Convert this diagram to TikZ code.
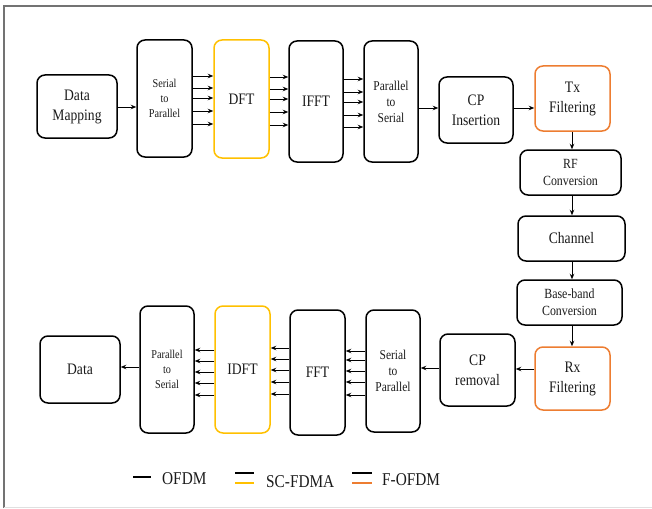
\documentclass[tikz,border=0pt]{standalone}
\usepackage{fontspec}
\setmainfont{Liberation Serif}[FakeStretch=0.85]
\usetikzlibrary{arrows.meta}
\definecolor{scy}{HTML}{FFC000}
\definecolor{fo}{HTML}{ED7D31}
\definecolor{txt}{HTML}{1A1A1A}
\tikzset{
  box/.style={draw=black, line width=1.5pt, rounded corners=8pt, align=center, text=txt, inner sep=1pt},
  big/.style={font=\fontsize{16}{20}\selectfont},
  mid/.style={font=\fontsize{14}{17}\selectfont},
  sml/.style={font=\fontsize{12}{15}\selectfont},
  smb/.style={font=\fontsize{13.5}{16}\selectfont},
  scbox/.style={box, draw=scy},
  fobox/.style={box, draw=fo},
  arr/.style={line width=0.9pt, -{Stealth[length=5.5pt,width=4.5pt]}},
  legtxt/.style={anchor=west, text=txt, font=\fontsize{18}{20}\selectfont, inner sep=0pt},
  legline/.style={line width=2.4pt},
}
\begin{document}
\begin{tikzpicture}[x=1pt,y=-1pt]
\useasboundingbox (0,0) rectangle (652,508);
% frame
\draw[black!55, line width=2pt] (4,508) -- (4,6) -- (652,6);
\draw[black!12, line width=1.5pt] (4,507.3) -- (652,507.3);

% top row
\node[box,big,minimum width=80pt,minimum height=63pt] (dm) at (77,106.5) {Data\\Mapping};
\node[box,sml,minimum width=55pt,minimum height=117pt] (sp1) at (164.5,98.5) {Serial\\to\\Parallel};
\node[scbox,big,minimum width=55pt,minimum height=118pt] (dft) at (241.5,99) {DFT};
\node[box,big,minimum width=54pt,minimum height=121pt] (ifft) at (316,101.5) {IFFT};
\node[box,smb,minimum width=54pt,minimum height=121pt] (ps1) at (391,101.5) {Parallel\\to\\Serial};
\node[box,big,minimum width=74pt,minimum height=66pt] (cpi) at (476,110) {CP\\Insertion};
\node[fobox,big,minimum width=75pt,minimum height=65pt] (tx) at (572.5,98.5) {Tx\\Filtering};

% right column
\node[box,mid,minimum width=101pt,minimum height=45pt] (rf) at (570.5,172.5) {RF\\Conversion};
\node[box,big,minimum width=107pt,minimum height=45pt] (ch) at (571.5,238.5) {Channel};
\node[box,mid,minimum width=105pt,minimum height=45pt] (bb) at (569.5,302.5) {Base-band\\Conversion};
\node[fobox,big,minimum width=75pt,minimum height=63pt] (rx) at (572.5,378.5) {Rx\\Filtering};

% bottom row
\node[box,big,minimum width=75pt,minimum height=72pt] (cpr) at (477.5,370) {CP\\removal};
\node[box,smb,minimum width=54pt,minimum height=122pt] (sp2) at (393,371) {Serial\\to\\Parallel};
\node[box,big,minimum width=55pt,minimum height=125pt] (fft) at (317.5,372.5) {FFT};
\node[scbox,big,minimum width=55pt,minimum height=127pt] (idft) at (242.5,369.5) {IDFT};
\node[box,sml,minimum width=54pt,minimum height=127pt] (ps2) at (167,369.5) {Parallel\\to\\Serial};
\node[box,big,minimum width=80pt,minimum height=67pt] (data) at (80,369.5) {Data};

% connectors top
\draw[arr] (dm.east |- 0,107) -- (sp1.west |- 0,107);
\foreach \yy in {76,88,98,111,124} \draw[arr] (sp1.east |- 0,\yy) -- (dft.west |- 0,\yy);
\foreach \yy in {77,89,99,112,125} \draw[arr] (dft.east |- 0,\yy) -- (ifft.west |- 0,\yy);
\foreach \yy in {79,92,102,115,127} \draw[arr] (ifft.east |- 0,\yy) -- (ps1.west |- 0,\yy);
\draw[arr] (ps1.east |- 0,108) -- (cpi.west |- 0,108);
\draw[arr] (cpi.east |- 0,108) -- (tx.west |- 0,108);

% right column
\coordinate (vx) at (572,0);
\draw[arr] (vx |- tx.south) -- (vx |- rf.north);
\draw[arr] (vx |- rf.south) -- (vx |- ch.north);
\draw[arr] (vx |- ch.south) -- (vx |- bb.north);
\draw[arr] (vx |- bb.south) -- (vx |- rx.north);

% bottom
\draw[arr] (rx.west |- 0,369) -- (cpr.east |- 0,369);
\draw[arr] (cpr.west |- 0,368) -- (sp2.east |- 0,368);
\foreach \yy in {351,360,371,382,395} \draw[arr] (sp2.west |- 0,\yy) -- (fft.east |- 0,\yy);
\foreach \yy in {348,359,370,382,394} \draw[arr] (fft.west |- 0,\yy) -- (idft.east |- 0,\yy);
\foreach \yy in {350,361,372,383,395} \draw[arr] (idft.west |- 0,\yy) -- (ps2.east |- 0,\yy);
\draw[arr] (ps2.west |- 0,367) -- (data.east |- 0,367);

% legend
\draw[legline,black] (133,477) -- (151,477);
\node[legtxt] (l1) at (162,479) {OFDM};
\draw[legline,black] (235,473) -- (254,473);
\draw[legline,scy] (235,483) -- (254,483);
\node[legtxt] (l2) at (266,482) {SC-FDMA};
\draw[legline,black] (352,473) -- (372,473);
\draw[legline,fo] (352,483) -- (372,483);
\node[legtxt] (l3) at (382,480) {F-OFDM};
\end{tikzpicture}
\end{document}
